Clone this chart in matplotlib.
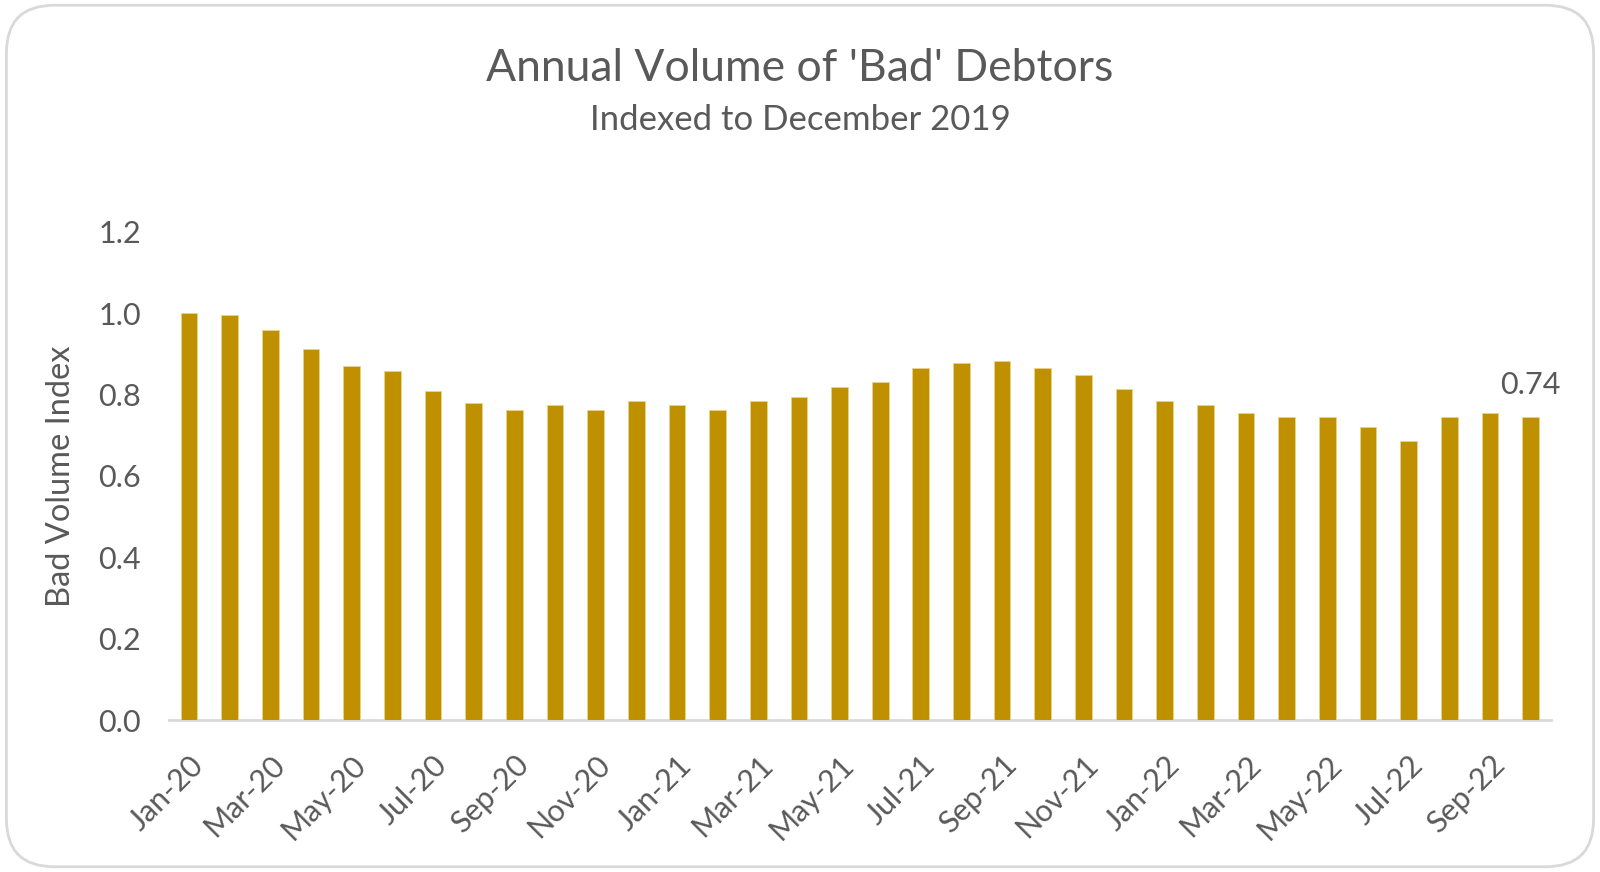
import matplotlib
matplotlib.use("Agg")
import matplotlib.pyplot as plt
from matplotlib.patches import FancyBboxPatch

months = ["Jan-20", "Feb-20", "Mar-20", "Apr-20", "May-20", "Jun-20", "Jul-20", "Aug-20",
          "Sep-20", "Oct-20", "Nov-20", "Dec-20", "Jan-21", "Feb-21", "Mar-21", "Apr-21",
          "May-21", "Jun-21", "Jul-21", "Aug-21", "Sep-21", "Oct-21", "Nov-21", "Dec-21",
          "Jan-22", "Feb-22", "Mar-22", "Apr-22", "May-22", "Jun-22", "Jul-22", "Aug-22",
          "Sep-22", "Oct-22"]
values = [1.00, 0.995, 0.960, 0.912, 0.870, 0.857, 0.810, 0.779, 0.762, 0.775, 0.762, 0.784,
          0.775, 0.762, 0.784, 0.793, 0.818, 0.831, 0.865, 0.879, 0.882, 0.865, 0.848, 0.814,
          0.784, 0.775, 0.754, 0.745, 0.745, 0.720, 0.685, 0.745, 0.754, 0.744]
y_ticks = [0.0, 0.2, 0.4, 0.6, 0.8, 1.0, 1.2]
last_label = "0.74"

plt.rcParams['font.family'] = ['Lato', 'DejaVu Sans']
grey = "#595959"
bar_color = "#BF9000"

fig = plt.figure(figsize=(16, 8.72), dpi=100)
border = FancyBboxPatch((0.004, 0.006), 0.992, 0.988, boxstyle="round,pad=0,rounding_size=0.03",
                        transform=fig.transFigure, facecolor="white", edgecolor="#D9D9D9",
                        linewidth=2, mutation_aspect=1600/872, zorder=-5)
fig.patches.append(border)

ax = fig.add_axes([0.1054, 0.1743, 0.864, 0.5597])
x = list(range(len(values)))
ax.bar(x, values, width=0.41, color=bar_color, edgecolor="#E8D48A", linewidth=0.6, zorder=3)
ax.set_xlim(-0.5, len(values) - 0.5)
ax.set_ylim(0, 1.2)
ax.set_yticks(y_ticks)
ax.set_yticklabels([f"{v:.1f}" for v in y_ticks])
ax.set_xticks(x[::2])
ax.set_xticklabels(months[::2], rotation=45, ha="right", rotation_mode="anchor")
ax.tick_params(axis="both", length=0, colors=grey, labelsize=22)
ax.tick_params(axis="y", pad=20)
ax.tick_params(axis="x", pad=22)
for s in ["top", "right", "left"]:
    ax.spines[s].set_visible(False)
ax.spines["bottom"].set_color("#D9D9D9")
ax.spines["bottom"].set_linewidth(2)
ax.set_facecolor("none")
ax.set_ylabel("Bad Volume Index", fontsize=23.5, color=grey, labelpad=16)

ax.annotate(last_label, (x[-1], values[-1]), xytext=(0, 13), textcoords="offset points",
            ha="center", va="bottom", fontsize=22, color=grey)

fig.text(0.5, 0.922, "Annual Volume of 'Bad' Debtors", ha="center", va="center",
         fontsize=32, color=grey)
fig.text(0.5, 0.862, "Indexed to December 2019", ha="center", va="center",
         fontsize=25, color=grey)

fig.savefig("out.png", dpi=100)
